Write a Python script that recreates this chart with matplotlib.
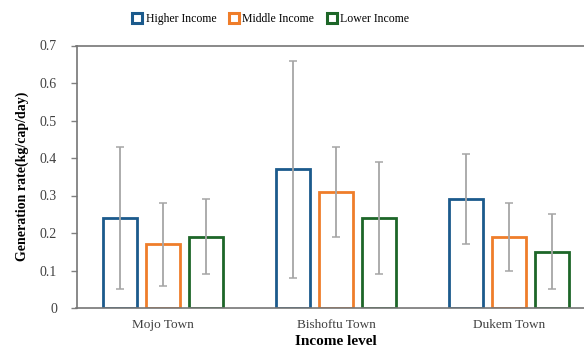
import matplotlib.pyplot as plt
from matplotlib.lines import Line2D
import numpy as np

towns = ["Mojo Town", "Bishoftu Town", "Dukem Town"]
groups = ["Higher Income", "Middle Income", "Lower Income"]
higher = [0.24, 0.37, 0.29]
middle = [0.17, 0.31, 0.19]
lower = [0.19, 0.24, 0.15]
higher_err = [0.19, 0.29, 0.12]
middle_err = [0.11, 0.12, 0.09]
lower_err = [0.10, 0.15, 0.10]
yticks = [0, 0.1, 0.2, 0.3, 0.4, 0.5, 0.6, 0.7]
ytick_labels = ["0", "0.1", "0.2", "0.3", "0.4", "0.5", "0.6", "0.7"]

colors = ["#1b5a8c", "#ef7d2a", "#1d6628"]
plt.rcParams['font.family'] = ['Liberation Serif', 'DejaVu Serif']

fig = plt.figure(figsize=(5.84, 3.5), dpi=100)
# plot area runs slightly past the right edge of the canvas
ax = fig.add_axes([76.5 / 584, 1 - 308 / 350, (595.5 - 76.5) / 584, (308 - 45.5) / 350])

x = np.arange(len(towns))
offsets = [-0.251, 0, 0.251]
width = 0.197
for vals, errs, off, col in zip([higher, middle, lower], [higher_err, middle_err, lower_err], offsets, colors):
    ax.bar(x + off, vals, width, facecolor="white", edgecolor=col, linewidth=2.0, zorder=2)
    ax.errorbar(x + off, vals, yerr=errs, fmt="none", ecolor="#a6a6a6",
                elinewidth=1.3, capsize=3, capthick=1.1, zorder=3)

ax.set_xlim(-0.5, 2.5)
ax.set_ylim(0, 0.7)
ax.set_yticks(yticks)
ax.set_yticklabels(ytick_labels)
ax.set_xticks(x)
ax.set_xticklabels(towns)
ax.tick_params(axis="x", length=0, pad=8, labelsize=9.5, colors="#404040")
ax.tick_params(axis="y", length=4, width=1, pad=10, color="#808080", labelsize=10, labelcolor="#404040")
for side in ["left", "bottom", "top"]:
    ax.spines[side].set_color("#767676")
    ax.spines[side].set_linewidth(1.2)
ax.spines["right"].set_visible(False)

ax.set_ylabel("Generation rate(kg/cap/day)", fontsize=10, fontweight="bold", labelpad=8)
ax.set_xlabel("Income level", fontsize=11, fontweight="bold", labelpad=3)

handles = [Line2D([], [], linestyle="none", marker="s", markersize=7,
                  markerfacecolor="white", markeredgecolor=c, markeredgewidth=2.2) for c in colors]
fig.legend(handles, groups, loc="center", bbox_to_anchor=(271.5 / 584, 1 - 19 / 350),
           ncol=3, frameon=False, fontsize=8.5, handlelength=0.6, handletextpad=0.4,
           columnspacing=1.2)

plt.savefig("out.png", dpi=100)
